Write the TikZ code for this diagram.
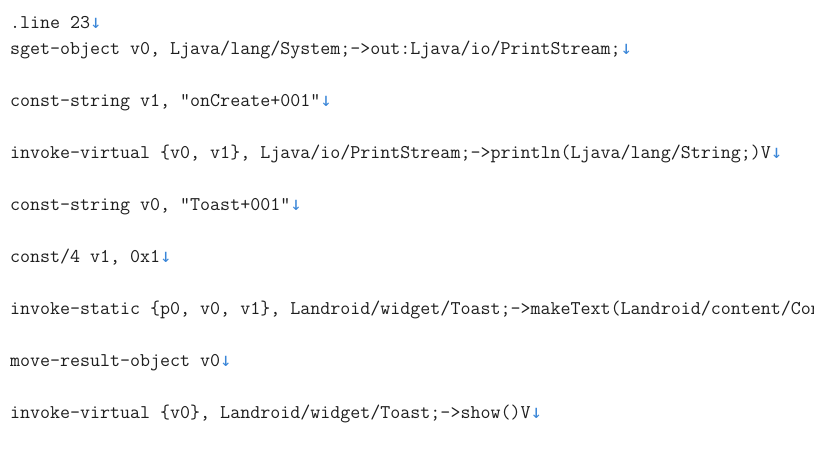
\documentclass[tikz,border=0pt]{standalone}
\usepackage{fontspec}
\newfontfamily\arrowfont{DejaVu Sans Mono}
\definecolor{codetext}{HTML}{1E1E1E}
\definecolor{markblue}{HTML}{3A86D8}
\newcommand{\lbmark}{{\arrowfont\color{markblue}\fontsize{19pt}{21pt}\selectfont ↓}}
\tikzset{
  codeline/.style={anchor=base west, inner sep=0pt, outer sep=0pt, text=codetext,
    font=\ttfamily\fontsize{19.44pt}{22pt}\selectfont}
}
\begin{document}
\begin{tikzpicture}[x=1pt,y=-1pt]
\useasboundingbox (0,0) rectangle (814,449);
\fill[white] (0,0) rectangle (814,449);
\clip (0,0) rectangle (814,449);
\node[codeline] (l1) at (10,28.5) {.line 23\lbmark};
\node[codeline] (l2) at (10,54.5) {sget-object v0, Ljava/lang/System;->out:Ljava/io/PrintStream;\lbmark};
\node[codeline] (l3) at (10,106.5) {const-string v1, "onCreate+001"\lbmark};
\node[codeline] (l4) at (10,158.5) {invoke-virtual \{v0, v1\}, Ljava/io/PrintStream;->println(Ljava/lang/String;)V\lbmark};
\node[codeline] (l5) at (10,210.5) {const-string v0, "Toast+001"\lbmark};
\node[codeline] (l6) at (10,262.5) {const/4 v1, 0x1\lbmark};
\node[codeline] (l7) at (10,314.5) {invoke-static \{p0, v0, v1\}, Landroid/widget/Toast;->makeText(Landroid/content/Con};
\node[codeline] (l8) at (10,366.5) {move-result-object v0\lbmark};
\node[codeline] (l9) at (10,418.5) {invoke-virtual \{v0\}, Landroid/widget/Toast;->show()V\lbmark};
\end{tikzpicture}
\end{document}
